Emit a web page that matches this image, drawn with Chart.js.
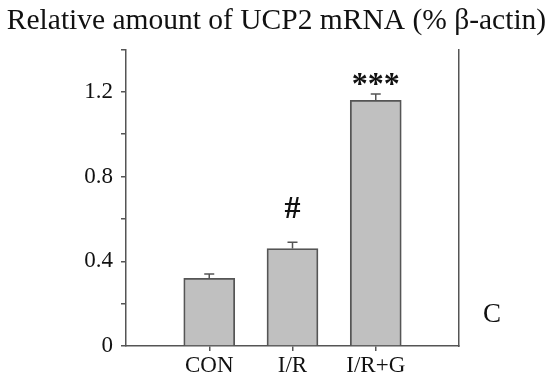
<!DOCTYPE html>
<html>
<head>
<meta charset="utf-8">
<script src="https://cdn.jsdelivr.net/npm/chart.js@4"></script>
<style>
  body { margin: 0; background: #fff; }
</style>
</head>
<body>
<canvas id="myChart" width="553" height="377"></canvas>
<script>
// data
const categories = ["", "CON", "I/R", "I/R+G", ""];
const values = [null, 0.32, 0.46, 1.16, null];
const errors = [null, 0.02, 0.03, 0.03, null];
const marks = ["", "", "#", "***", ""];
const yTickLabels = { 0: "0", 0.4: "0.4", 0.8: "0.8", 1.2: "1.2" };

const axisColor = "#555555";
const serif = "'Liberation Serif', 'Times New Roman', serif";

// error bars, significance marks and the panel letter
const extras = {
  id: "extras",
  afterDatasetsDraw(chart) {
    const ctx = chart.ctx;
    const y = chart.scales.y;
    const bars = chart.getDatasetMeta(0).data;
    ctx.save();
    for (let i = 0; i < bars.length; i++) {
      if (values[i] == null) continue;
      const bx = bars[i].x;
      const top = y.getPixelForValue(values[i] + errors[i]);
      ctx.strokeStyle = axisColor;
      ctx.lineWidth = 1.5;
      ctx.beginPath();
      ctx.moveTo(bx, bars[i].y);
      ctx.lineTo(bx, top);
      ctx.moveTo(bx - 5, top);
      ctx.lineTo(bx + 5, top);
      ctx.stroke();

      if (marks[i]) {
        ctx.fillStyle = "#111";
        ctx.textAlign = "center";
        ctx.textBaseline = "bottom";
        ctx.font = "bold 32px " + serif;
        if (marks[i] == "#") {
          ctx.fillText(marks[i], bx, top - 16);
        } else {
          ctx.fillText(marks[i], bx, top + 8);
        }
      }
    }
    // panel letter
    ctx.fillStyle = "#111";
    ctx.font = "27px " + serif;
    ctx.textAlign = "center";
    ctx.textBaseline = "middle";
    ctx.fillText("C", chart.chartArea.right + 33, y.getPixelForValue(0.147));
    ctx.restore();
  },
};

let ctx = document.getElementById("myChart").getContext("2d");
let myChart = new Chart(ctx, {
  type: "bar",
  data: {
    labels: categories,
    datasets: [
      {
        data: values,
        backgroundColor: "#c0c0c0",
        borderColor: axisColor,
        borderWidth: 1.8,
        barThickness: 51,
      },
    ],
  },
  options: {
    responsive: false,
    animation: false,
    plugins: {
      legend: { display: false },
      tooltip: { enabled: false },
      title: {
        display: true,
        text: "Relative amount of UCP2 mRNA (% \u03b2-actin)",
        color: "#111",
        font: { family: serif, size: 29.5, weight: "normal", lineHeight: 1.2 },
        padding: { top: 4, bottom: 10 },
      },
    },
    scales: {
      x: {
        offset: false,
        grid: {
          offset: false,
          drawOnChartArea: false,
          tickLength: 5,
          color: (c) => (c.index == 0 || c.index == 4 ? "rgba(0,0,0,0)" : axisColor),
          lineWidth: 1.5,
        },
        border: { color: axisColor, width: 1.5 },
        ticks: {
          color: "#111",
          font: { family: serif, size: 23 },
          padding: 1,
          maxRotation: 0,
          autoSkip: false,
        },
        afterFit: (scale) => { scale.height = 31; },
      },
      y: {
        min: 0,
        max: 1.4,
        grid: {
          drawOnChartArea: false,
          tickLength: 5,
          color: axisColor,
          lineWidth: 1.5,
        },
        border: { color: axisColor, width: 1.5 },
        ticks: {
          stepSize: 0.2,
          color: "#111",
          font: { family: serif, size: 23 },
          padding: 8,
          callback: (v) => {
            let key = Math.round(v * 10) / 10;
            return yTickLabels[key] !== undefined ? yTickLabels[key] : "";
          },
        },
        afterFit: (scale) => { scale.width = 126; },
      },
      y2: {
        position: "right",
        min: 0,
        max: 1.4,
        grid: { display: false, drawTicks: false },
        border: { color: axisColor, width: 1.5 },
        ticks: { display: false },
        afterFit: (scale) => { scale.width = 94; },
      },
    },
  },
  plugins: [extras],
});
</script>
</body>
</html>
